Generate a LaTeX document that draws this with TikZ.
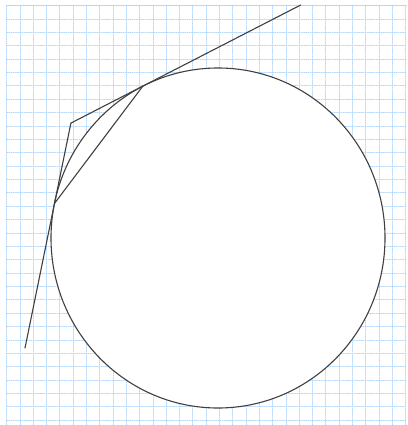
\documentclass[tikz,border=0pt]{standalone}
\usepackage{xcolor}
\usepackage{tikz}
\definecolor{gridblue}{RGB}{180,216,252}
\tikzset{gridline/.style={gridblue,line width=0.9pt,dash pattern=on 0.9pt off 1.3pt}}
\begin{document}
\begin{tikzpicture}[x=1pt,y=-1pt,line width=1.1pt,line cap=round]
\useasboundingbox(0,0)rectangle(407,425);
\fill[white](0,0)rectangle(407,425);
% dotted grid paper
\foreach \i in {0,...,30}
\draw[gridline](6.7+13.3*\i,5.7)--(6.7+13.3*\i,425);
\foreach \j in {1,...,31}
\draw[gridline](6.7,5.7+13.37*\j)--(407,5.7+13.37*\j);
\draw[gray!35,line width=1pt,line cap=butt](6.7,5.7)--(407,5.7);
% circle, two tangents and the chord
\coordinate(O)at(218,238);
\coordinate(A)at(25,348);
\coordinate(B)at(70.9,123.1);
\coordinate(T1)at(54.5,203.4);
\coordinate(T2)at(142.7,86.3);
\coordinate(E)at(300.7,5.0);
\draw[black!75,fill=white](O)ellipse[x radius=167,y radius=170];
\draw[black!75](A)--(B)--(E);
\draw[black!75](T1)--(T2);
\end{tikzpicture}
\end{document}
